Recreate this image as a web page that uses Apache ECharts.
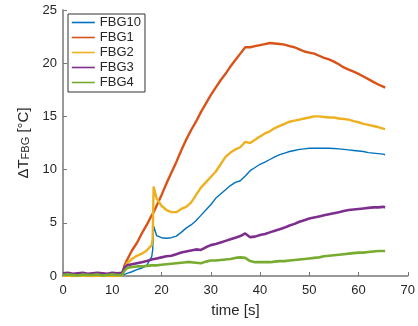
<!DOCTYPE html>
<html>
<head>
<meta charset="utf-8">
<script src="https://cdn.jsdelivr.net/npm/echarts@6/dist/echarts.min.js"></script>
<style>
html,body{margin:0;padding:0;background:#fff;}
#c{width:418px;height:326px;}
</style>
</head>
<body>
<div id="c"></div>
<script>
var times = [0,1,2,3,4,5,6,7,8,9,10,11,12,12.5,13,14,15,16,17,18,18.2,18.4,
  19,20,21,22,23,24,25,26,27,28,29,30,31,32,33,34,35,36,37,38,39,40,41,42,43,44,45,46,47,48,
  49,50,51,52,53,54,55,56,57,58,59,60,61,62,63,64,65,65.4];

var fbg10 = [0.05,0.1,0.05,0.08,0.05,0.1,0.05,0.08,0.05,0.1,0.05,0.08,0.05,0.15,
  0.25,0.4,0.6,0.75,1.0,1.8,2.4,4.7,
  3.8,3.6,3.55,3.6,3.75,4.1,4.5,4.8,5.2,5.7,6.2,6.7,7.3,7.7,8.1,8.5,8.8,8.95,9.4,9.9,
  10.2,10.5,10.7,10.95,11.2,11.4,11.55,11.7,11.8,11.9,11.95,12.0,12.0,12.0,12.0,12.0,
  11.98,11.95,11.9,11.85,11.8,11.75,11.7,11.6,11.55,11.5,11.45,11.4];

var fbg1 = [0.1,0.15,0.1,0.12,0.1,0.15,0.1,0.12,0.15,0.1,0.12,0.1,0.15,1.0,
  1.5,2.4,3.1,4.0,4.8,5.7,5.85,6.0,
  6.6,7.6,8.7,9.7,10.7,11.8,12.8,13.7,14.5,15.4,16.2,17.0,17.7,18.4,19.0,19.7,20.3,20.9,
  21.5,21.5,21.6,21.7,21.8,21.9,21.85,21.8,21.75,21.6,21.5,21.3,21.1,21.0,20.9,20.7,20.5,
  20.35,20.15,19.9,19.6,19.4,19.2,19.0,18.75,18.5,18.25,18.0,17.8,17.7];

var fbg2 = [0.0,0.05,-0.05,0.0,0.05,0.0,-0.05,0.0,0.05,0.0,-0.05,0.0,0.05,0.7,
  1.2,1.6,1.9,2.1,2.4,2.9,3.5,8.4,
  7.3,6.6,6.2,6.0,6.0,6.3,6.5,6.9,7.6,8.3,8.8,9.3,9.8,10.5,11.2,11.6,11.9,12.1,12.6,12.5,
  12.8,13.1,13.4,13.6,13.9,14.1,14.3,14.5,14.6,14.7,14.8,14.9,15.0,15.0,14.95,14.9,14.9,
  14.8,14.75,14.7,14.55,14.45,14.3,14.2,14.1,14.0,13.85,13.8];

var fbg3 = [0.25,0.3,0.2,0.25,0.3,0.2,0.25,0.3,0.25,0.2,0.3,0.25,0.3,0.8,
  1.0,1.1,1.2,1.3,1.4,1.55,1.55,1.6,
  1.65,1.75,1.85,1.9,2.05,2.2,2.3,2.4,2.5,2.45,2.7,2.9,3.0,3.15,3.3,3.45,3.6,3.75,4.0,3.65,
  3.7,3.85,3.95,4.1,4.25,4.4,4.55,4.75,4.9,5.1,5.25,5.4,5.5,5.6,5.7,5.8,5.9,6.0,6.1,6.2,
  6.25,6.3,6.35,6.4,6.45,6.45,6.5,6.45];

var fbg4 = [0.1,0.15,0.1,0.05,0.15,0.1,0.1,0.15,0.05,0.1,0.15,0.1,0.1,0.5,
  0.75,0.85,0.9,0.9,0.95,1.0,1.0,1.0,
  1.0,1.05,1.1,1.15,1.2,1.25,1.3,1.3,1.25,1.2,1.35,1.45,1.45,1.5,1.55,1.6,1.7,1.75,1.7,1.4,
  1.3,1.3,1.3,1.3,1.35,1.4,1.4,1.45,1.5,1.55,1.6,1.65,1.7,1.75,1.85,1.9,1.95,2.0,2.05,2.1,
  2.15,2.2,2.2,2.25,2.3,2.35,2.35,2.35];

var seriesNames = ['FBG10','FBG1','FBG2','FBG3','FBG4'];
var seriesValues = [fbg10, fbg1, fbg2, fbg3, fbg4];
var colors = ['#0072BD','#D95319','#EDB120','#7E2F8E','#77AC30'];
var widths = [1.4, 2.4, 2.4, 2.6, 2.6];

var xTicks = {min:0, max:70, interval:10};
var yTicks = {min:0, max:25, interval:5};

function pairs(vals){ return times.map(function(t,i){ return [t, vals[i]]; }); }

var font = 'Liberation Sans, Arial, Helvetica, sans-serif';
var chart = echarts.init(document.getElementById('c'), null, {renderer:'canvas'});
chart.setOption({
  animation: false,
  backgroundColor: '#fff',
  grid: {left: 63, right: 8, top: 10, bottom: 50, containLabel: false},
  legend: {
    orient: 'vertical', left: 68, top: 14,
    padding: [2, 4, 3, 3],
    itemWidth: 23, itemHeight: 14, itemGap: 2,
    borderColor: '#333', borderWidth: 1, backgroundColor: '#fff',
    lineStyle: {width: 1.6},
    itemStyle: {opacity: 0},
    textStyle: {fontFamily: font, fontSize: 13, color: '#262626'},
    data: seriesNames
  },
  xAxis: {
    type: 'value', min: xTicks.min, max: xTicks.max, interval: xTicks.interval,
    name: 'time [s]', nameLocation: 'middle', nameGap: 27,
    nameTextStyle: {fontFamily: font, fontSize: 15, color: '#262626'},
    axisLine: {show: true, lineStyle: {color: '#777', width: 1.5}},
    axisTick: {show: true, inside: true, length: 4, lineStyle: {color: '#777'}},
    axisLabel: {fontFamily: font, fontSize: 13, color: '#262626', margin: 8},
    splitLine: {show: false}
  },
  yAxis: {
    type: 'value', min: yTicks.min, max: yTicks.max, interval: yTicks.interval,
    name: '{m|ΔT}{s|FBG}{m| [°C]}', nameLocation: 'middle', nameGap: 28,
    nameTextStyle: {fontFamily: font, fontSize: 15, color: '#262626',
      rich: {
        m: {fontFamily: font, fontSize: 15, color: '#262626', padding: [0,0,4,0]},
        s: {fontFamily: font, fontSize: 11, color: '#262626'}
      }},
    axisLine: {show: true, lineStyle: {color: '#777', width: 1.5}},
    axisTick: {show: true, inside: true, length: 4, lineStyle: {color: '#777'}},
    axisLabel: {fontFamily: font, fontSize: 13, color: '#262626', margin: 6},
    splitLine: {show: false}
  },
  series: seriesNames.map(function(n, i){
    return {
      name: n, type: 'line', data: pairs(seriesValues[i]),
      symbol: 'none', showSymbol: false,
      itemStyle: {color: colors[i]},
      lineStyle: {color: colors[i], width: widths[i]}
    };
  })
});
</script>
</body>
</html>
